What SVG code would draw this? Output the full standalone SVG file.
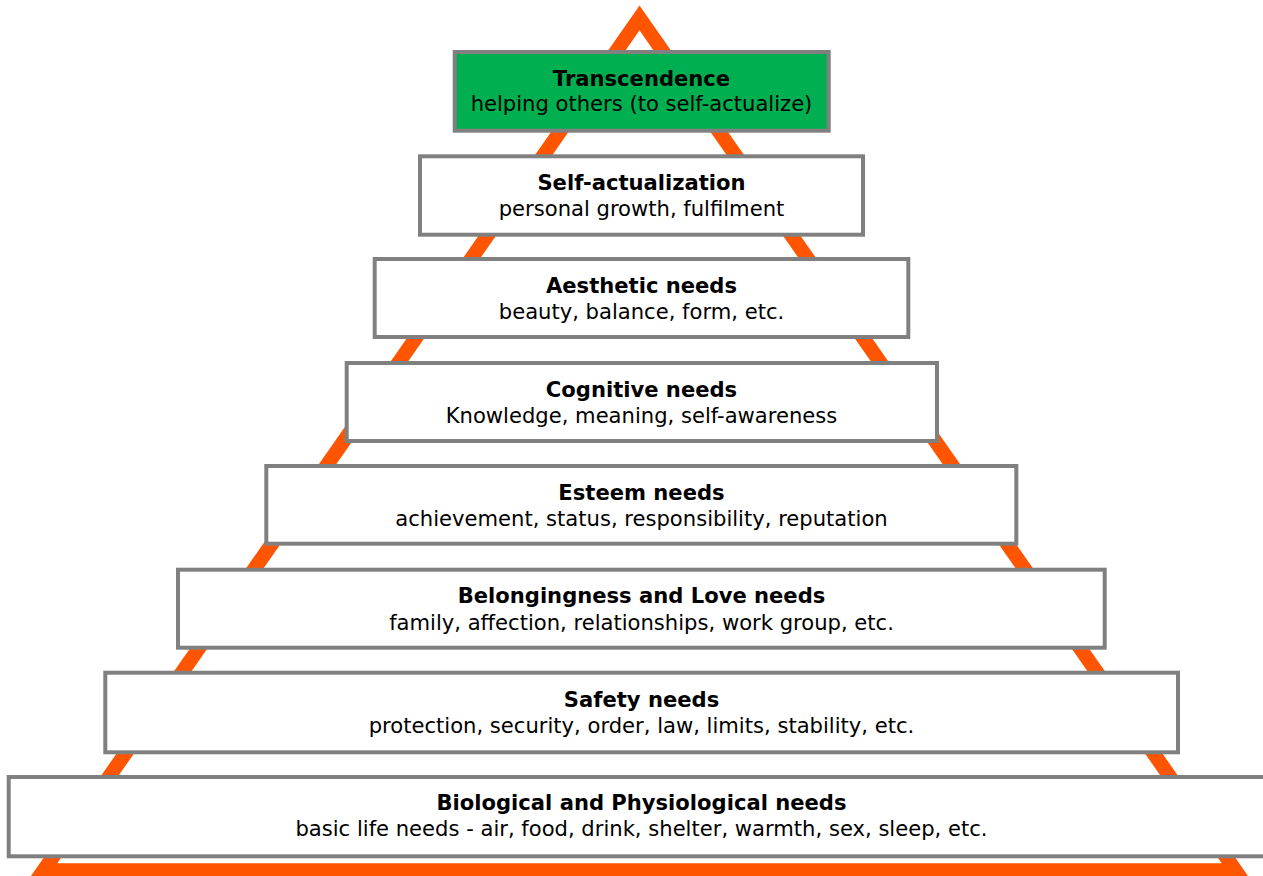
<svg xmlns="http://www.w3.org/2000/svg" width="1263" height="876" viewBox="0 0 1263 876">
<style>
.box{fill:#FFFFFF;stroke:#808080;stroke-width:4}
.green{fill:#00B050}
.t{font-family:"DejaVu Sans","Verdana",sans-serif;font-size:21.1px;fill:#000;text-anchor:middle}
.b{font-weight:bold}
</style>
<rect width="1263" height="876" fill="#FFFFFF"/>
<g id="pyramid">
<polygon points="639.5,18 43.5,870.5 1235.5,870.5" fill="none" stroke="#FF5500" stroke-width="14.3" stroke-linejoin="miter"/>
</g>
<g id="connectors"></g>
<g id="transcendence">
<rect class="box green" x="454.7" y="52" width="374" height="78.7"/>
<text class="t b" x="641.5" y="86">Transcendence</text>
<text class="t" x="641.5" y="111.3">helping others (to self-actualize)</text>
</g>
<g id="self-actualization">
<rect class="box" x="420" y="156.3" width="443" height="78.4"/>
<text class="t b" x="641.5" y="189.8">Self-actualization</text>
<text class="t" x="641.5" y="216.3">personal growth, fulfilment</text>
</g>
<g id="aesthetic">
<rect class="box" x="374.7" y="259" width="533.6" height="78"/>
<text class="t b" x="641.5" y="292.6">Aesthetic needs</text>
<text class="t" x="641.5" y="318.8">beauty, balance, form, etc.</text>
</g>
<g id="cognitive">
<rect class="box" x="346.7" y="363" width="590.3" height="78"/>
<text class="t b" x="641.5" y="396.6">Cognitive needs</text>
<text class="t" x="641.5" y="422.8">Knowledge, meaning, self-awareness</text>
</g>
<g id="esteem">
<rect class="box" x="266.3" y="466" width="750" height="77.7"/>
<text class="t b" x="641.5" y="499.6">Esteem needs</text>
<text class="t" x="641.5" y="525.8">achievement, status, responsibility, reputation</text>
</g>
<g id="belongingness">
<rect class="box" x="178" y="569.7" width="926.7" height="78"/>
<text class="t b" x="641.5" y="603.3">Belongingness and Love needs</text>
<text class="t" x="641.5" y="629.5">family, affection, relationships, work group, etc.</text>
</g>
<g id="safety">
<rect class="box" x="105.3" y="672.7" width="1072.7" height="79.6"/>
<text class="t b" x="641.5" y="706.5">Safety needs</text>
<text class="t" x="641.5" y="732.5">protection, security, order, law, limits, stability, etc.</text>
</g>
<g id="biological">
<rect class="box" x="8.7" y="777" width="1266" height="79.3"/>
<text class="t b" x="641.5" y="809.8">Biological and Physiological needs</text>
<text class="t" x="641.5" y="836.3">basic life needs - air, food, drink, shelter, warmth, sex, sleep, etc.</text>
</g>
</svg>
